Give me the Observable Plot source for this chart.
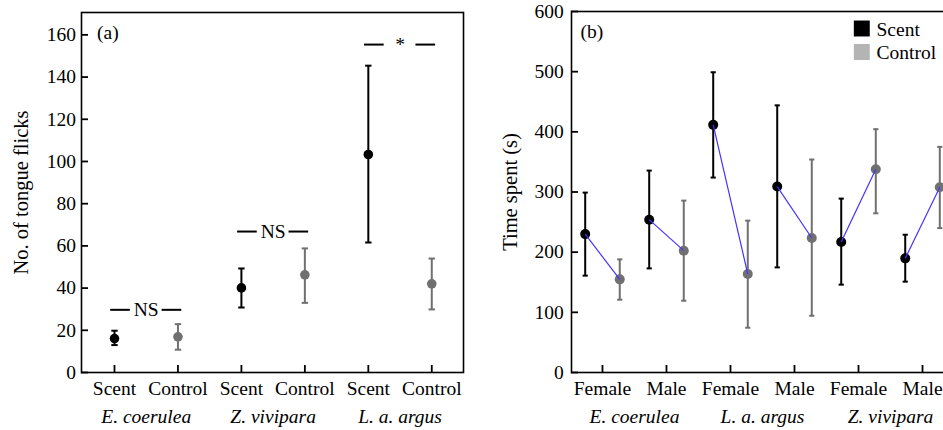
<!DOCTYPE html>
<html><head><meta charset="utf-8">
<script src="https://cdn.jsdelivr.net/npm/d3@7"></script>
<script src="https://cdn.jsdelivr.net/npm/@observablehq/plot@0.6"></script>
<style>
html,body{margin:0;padding:0;background:#fff;overflow:hidden;}
#wrap{position:relative;width:943px;height:430px;overflow:hidden;background:#fff;}
#a{position:absolute;left:0;top:0;width:470px;height:430px;}
#b{position:absolute;left:470px;top:0;width:490px;height:430px;}
#wrap svg{max-width:none !important;display:block;}
#wrap svg, #wrap svg text, #wrap svg tspan { font-family: "Liberation Serif", "Times New Roman", serif !important; }
</style></head><body><div id="wrap"><div id="a"></div><div id="b"></div></div>
<script>
// ---------- Panel (a): tongue flicks ----------
const speciesA = ["E. coerulea", "Z. vivipara", "L. a. argus"];
const treatments = ["Scent", "Control"];
const flickMean = [16.1, 16.9, 40.1, 46.3, 103.3, 42.0];
const flickLow  = [13.0, 10.8, 30.8, 33.0, 61.6, 29.9];
const flickHigh = [19.8, 22.9, 49.3, 58.8, 145.4, 54.0];
const sigLabels = ["NS", "NS", "*"];
const sigY = [29.7, 66.8, 155.4];
const yTicksA = [0, 20, 40, 60, 80, 100, 120, 140, 160];
const yLabelA = "No. of tongue flicks";

// ---------- Panel (b): time spent ----------
const speciesB = ["E. coerulea", "L. a. argus", "Z. vivipara"];
const sexes = ["Female", "Male"];
const scentMean = [230, 254, 411.6, 309, 217, 189.7];
const scentLow  = [161, 173, 324, 174.7, 146, 151];
const scentHigh = [299, 335.6, 499, 444, 289, 229];
const controlMean = [154.8, 202.5, 163.7, 223.6, 337.8, 308];
const controlLow  = [121, 119.3, 74.4, 94.3, 264.6, 240];
const controlHigh = [188, 285.7, 252.4, 354, 404.4, 375];
const yTicksB = [0, 100, 200, 300, 400, 500, 600];
const yLabelB = "Time spent (s)";
const legendLabels = ["Scent", "Control"];

const FONT = "Liberation Serif";
const capSymbol = {draw(ctx, size) { const w = Math.sqrt(size / Math.PI); ctx.moveTo(-w, 0); ctx.lineTo(w, 0); }};
const BLACK = "#000", GRAY = "#707070", LGRAY = "#b4b4b4", BLUE = "#4433ff";

// table for panel a
const rowsA = speciesA.flatMap((s, g) => treatments.map((t, j) => {
  const k = g * 2 + j;
  return {x: k, species: s, treatment: t, mean: flickMean[k], lo: flickLow[k], hi: flickHigh[k]};
}));
const sigRows = sigLabels.map((label, g) => ({c: g * 2 + 0.5, y: sigY[g], label}));
const sigSegs = sigRows.flatMap(d => [{x1: d.c - 0.56, x2: d.c - 0.25, y: d.y}, {x1: d.c + 0.25, x2: d.c + 0.56, y: d.y}]);
const groupA = speciesA.map((s, g) => ({c: g * 2 + 0.5, s}));

function errMarks(rows, xf, color, sw, capR, r) {
  return [
    Plot.ruleX(rows, {x: xf, y1: "lo", y2: "hi", stroke: color, strokeWidth: sw}),
    Plot.dot(rows, {x: xf, y: "lo", symbol: capSymbol, r: capR, stroke: color, strokeWidth: sw, fill: "none"}),
    Plot.dot(rows, {x: xf, y: "hi", symbol: capSymbol, r: capR, stroke: color, strokeWidth: sw, fill: "none"}),
    Plot.dot(rows, {x: xf, y: "mean", r, fill: color, stroke: "none"})
  ];
}

const plotA = Plot.plot({
  width: 470, height: 430,
  marginLeft: 81, marginRight: 7, marginTop: 12, marginBottom: 58,
  style: {fontFamily: FONT, fontSize: "19.5px", color: "#000", background: "#fff"},
  x: {domain: [-0.52, 5.5]},
  y: {domain: [0, 170.6]},
  marks: [
    Plot.frame({stroke: BLACK, strokeWidth: 1.6}),
    Plot.axisY(yTicksA, {anchor: "left", tickSize: -7, tickPadding: 12.5, strokeWidth: 1.8, label: null}),
    Plot.axisX(d3.range(6), {anchor: "bottom", tickSize: -7, tickPadding: 15.5, strokeWidth: 1.8, label: null,
      tickFormat: i => treatments[i % 2]}),
    Plot.text(groupA, {x: "c", text: "s", frameAnchor: "bottom", dy: 50.7, lineAnchor: "bottom", fontStyle: "italic"}),
    Plot.text([yLabelA], {frameAnchor: "left", dx: -60, rotate: -90, text: d => d, textAnchor: "middle", lineAnchor: "middle", fontSize: 20.5}),
    Plot.text(["(a)"], {frameAnchor: "top-left", dx: 15.5, dy: 26.3, text: d => d, textAnchor: "start", lineAnchor: "bottom"}),
    Plot.ruleY(sigSegs, {y: "y", x1: "x1", x2: "x2", stroke: BLACK, strokeWidth: 2}),
    Plot.text(sigRows, {x: "c", y: "y", text: "label"}),
    ...errMarks(rowsA.filter(d => d.treatment === "Scent"), "x", BLACK, 2, 3.2, 4.8),
    ...errMarks(rowsA.filter(d => d.treatment === "Control"), "x", GRAY, 2, 3.2, 4.8)
  ]
});
document.getElementById("a").appendChild(plotA);

// table for panel b
const OFF = 0.27;
const rowsB = speciesB.flatMap((s, g) => sexes.map((sex, j) => {
  const k = g * 2 + j;
  return {g: k, species: s, sex,
    scent: {x: k - OFF, mean: scentMean[k], lo: scentLow[k], hi: scentHigh[k]},
    control: {x: k + OFF, mean: controlMean[k], lo: controlLow[k], hi: controlHigh[k]}};
}));
const scentRows = rowsB.map(d => d.scent);
const controlRows = rowsB.map(d => d.control);
const groupB = speciesB.map((s, g) => ({c: g * 2 + 0.5, s}));

const plotB = Plot.plot({
  width: 490, height: 430,
  marginLeft: 101, marginRight: 4, marginTop: 11, marginBottom: 58,
  style: {fontFamily: FONT, fontSize: "19.5px", color: "#000", background: "#fff"},
  x: {domain: [-0.484, 5.531]},
  y: {domain: [0, 600]},
  marks: [
    Plot.frame({stroke: BLACK, strokeWidth: 1.6}),
    Plot.axisY(yTicksB, {anchor: "left", tickSize: -7, tickPadding: 14.7, strokeWidth: 1.8, label: null}),
    Plot.axisX(d3.range(6), {anchor: "bottom", tickSize: -7, tickPadding: 15.5, strokeWidth: 1.8, label: null,
      tickFormat: i => sexes[i % 2]}),
    Plot.text(groupB, {x: "c", text: "s", frameAnchor: "bottom", dy: 50.7, lineAnchor: "bottom", fontStyle: "italic"}),
    Plot.text([yLabelB], {frameAnchor: "left", dx: -61, rotate: -90, text: d => d, textAnchor: "middle", lineAnchor: "middle", fontSize: 20.5}),
    Plot.text(["(b)"], {frameAnchor: "top-left", dx: 9, dy: 26, text: d => d, textAnchor: "start", lineAnchor: "bottom"}),
    Plot.dot([legendLabels[0]], {frameAnchor: "top-left", dx: 290.3, dy: 17, symbol: "square", r: 9, fill: BLACK}),
    Plot.dot([legendLabels[1]], {frameAnchor: "top-left", dx: 290.3, dy: 40.5, symbol: "square", r: 9, fill: LGRAY}),
    Plot.text([legendLabels[0]], {frameAnchor: "top-left", dx: 305, dy: 24, text: d => d, textAnchor: "start", lineAnchor: "bottom"}),
    Plot.text([legendLabels[1]], {frameAnchor: "top-left", dx: 305, dy: 47, text: d => d, textAnchor: "start", lineAnchor: "bottom"}),
    ...errMarks(scentRows, "x", BLACK, 2, 2.6, 5),
    ...errMarks(controlRows, "x", GRAY, 2, 2.6, 5),
    Plot.link(rowsB, {x1: d => d.scent.x, y1: d => d.scent.mean, x2: d => d.control.x, y2: d => d.control.mean, stroke: BLUE, strokeWidth: 1.2})
  ]
});
document.getElementById("b").appendChild(plotB);
</script>
</body></html>
